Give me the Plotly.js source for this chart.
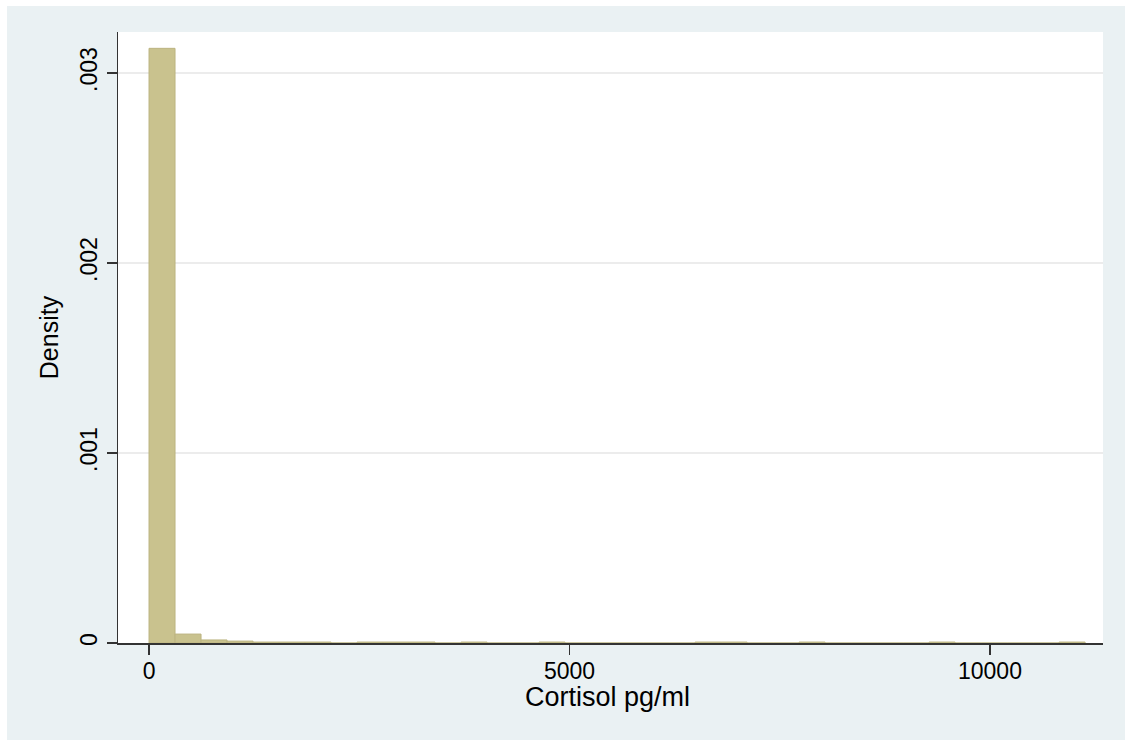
<!DOCTYPE html>
<html>
<head>
<meta charset="utf-8">
<script src="https://cdn.plot.ly/plotly-3.0.1.min.js"></script>
<style>
  html, body { margin: 0; padding: 0; background: rgb(234,241,243); overflow: hidden; width: 1125px; height: 740px; }
  #chart { position: absolute; left: 7px; top: 6px; width: 1118px; height: 734px; }
  .strip { position: absolute; background: #ffffff; }
</style>
</head>
<body>
<div class="strip" style="left:0;top:0;width:1125px;height:6px;"></div>
<div class="strip" style="left:0;top:0;width:7px;height:740px;"></div>
<div id="chart"></div>
<script>
// Histogram of Cortisol pg/ml (Stata-style density histogram)
const binStart = 0;          // pg/ml, left edge of first bin
const binWidth = 309.2;      // pg/ml per bin
const density = [
  0.00313, 0.000047, 0.000016, 0.000010, 0.000005, 0.000005, 0.000005, 0,
  0.000005, 0.000005, 0.000005, 0, 0.000005, 0, 0, 0.000005,
  0, 0, 0, 0, 0, 0.000005, 0.000005, 0,
  0, 0.000005, 0, 0, 0, 0, 0.000005, 0,
  0, 0, 0, 0.000005
];
const xTickVals = [0, 5000, 10000];
const xTickText = ['0', '5000', '10000'];
const yTickVals = [0, 0.001, 0.002, 0.003];
const yTickText = ['0', '.001', '.002', '.003'];
const xTitle = 'Cortisol pg/ml';
const yTitle = 'Density';

const trace = {
  type: 'bar',
  x0: binStart,
  dx: binWidth,
  y: density,
  width: binWidth,
  offset: 0,
  marker: { color: 'rgb(201,194,142)', line: { color: 'rgb(188,180,128)', width: 1 } },
  hoverinfo: 'x+y'
};

const layout = {
  width: 1118,
  height: 734,
  paper_bgcolor: 'rgb(234,241,243)',
  plot_bgcolor: '#ffffff',
  font: { family: 'Liberation Sans, Arial, sans-serif', color: '#000000' },
  margin: { l: 111, r: 22, t: 26, b: 97 },
  showlegend: false,
  bargap: 0,
  xaxis: {
    range: [-369, 11344],
    tickvals: xTickVals,
    ticktext: xTickText,
    ticks: 'outside',
    ticklen: 10,
    tickwidth: 1.5,
    tickcolor: '#333333',
    tickfont: { size: 23 },
    ticklabelstandoff: -3,
    showline: true,
    linecolor: '#333333',
    linewidth: 1.5,
    showgrid: false,
    zeroline: false
  },
  yaxis: {
    range: [0, 0.003216],
    tickvals: yTickVals,
    ticktext: yTickText,
    tickangle: -90,
    ticks: 'outside',
    ticklen: 10,
    tickwidth: 1.5,
    tickcolor: '#333333',
    tickfont: { size: 23 },
    showline: true,
    linecolor: '#333333',
    linewidth: 1.5,
    showgrid: true,
    gridcolor: '#ececec',
    gridwidth: 1.5,
    zeroline: false,
    title: { text: yTitle, font: { size: 25 }, standoff: 10 }
  },
  annotations: [{
    text: xTitle,
    xref: 'paper', yref: 'paper',
    x: 0.4965, y: -0.062,
    xanchor: 'center', yanchor: 'top',
    borderpad: 0,
    showarrow: false,
    font: { size: 27 }
  }]
};

Plotly.newPlot('chart', [trace], layout, { displayModeBar: false, staticPlot: true });
</script>
</body>
</html>
